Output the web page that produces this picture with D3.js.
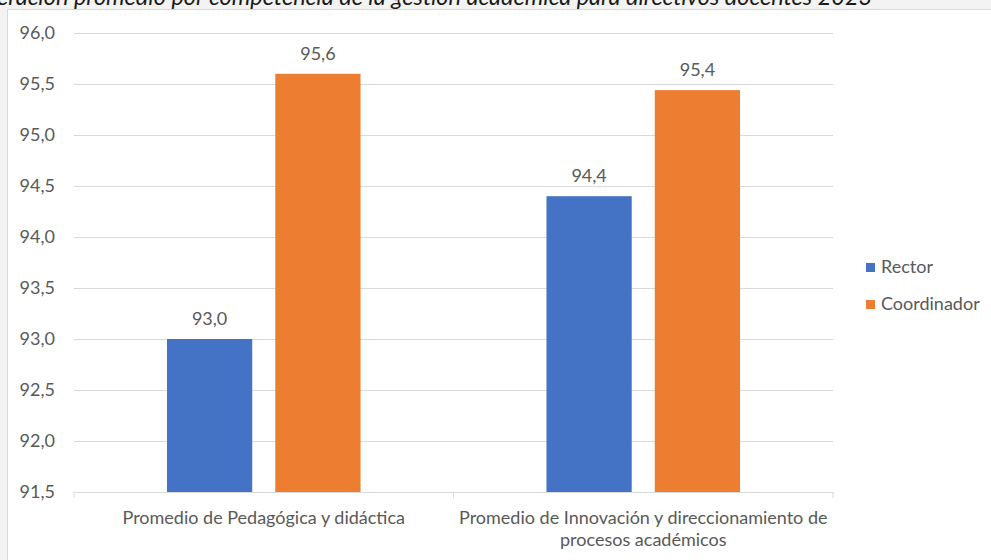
<!DOCTYPE html>
<html>
<head>
<meta charset="utf-8">
<script src="https://cdn.jsdelivr.net/npm/d3@7"></script>
<style>
  body { margin: 0; background: #f3f3f3; }
  svg { display: block; }
  text { font-family: Lato, "Open Sans", sans-serif; fill: #595959; }
</style>
</head>
<body>
<svg id="chart" width="991" height="560"></svg>
<script>
var categories = [["Promedio de Pedagógica y didáctica"],
                  ["Promedio de Innovación y direccionamiento de", "procesos académicos"]];
var series = ["Rector", "Coordinador"];
var rector = [93.0, 94.4];
var coordinador = [95.6, 95.44];
var yTicks = [91.5, 92.0, 92.5, 93.0, 93.5, 94.0, 94.5, 95.0, 95.5, 96.0];
var colors = ["#4472c4", "#ed7d31"];

var svg = d3.select("#chart"),
    margin = {top: 33, right: 158, bottom: 68, left: 74},
    width = +svg.attr("width") - margin.left - margin.right,
    height = +svg.attr("height") - margin.top - margin.bottom;

var fmt = function(v) { return d3.format(".1f")(v).replace(".", ","); };

// title, cut off at the top of the page
svg.append("text")
    .attr("x", -3).attr("y", 5)
    .style("font-style", "italic")
    .style("font-size", "23.5px")
    .style("fill", "#1a1a1a")
    .text("eración promedio por competencia de la gestión académica para directivos docentes 2023");

svg.append("rect")
    .attr("x", 7.5).attr("y", 9.5)
    .attr("width", 1000).attr("height", 600)
    .attr("fill", "#fff").attr("stroke", "#d9d9d9");

var data = categories.map(function(c, i) {
  return {cat: i, values: [rector[i], coordinador[i]]};
});

var x0 = d3.scaleBand().domain(d3.range(categories.length)).range([0, width]);
var x1 = d3.scaleBand().domain(series)
    .range([x0.bandwidth() * 0.245, x0.bandwidth() * 0.755])
    .paddingInner(0.213);
var y = d3.scaleLinear().domain([91.5, 96.0]).range([height, 0]);

var g = svg.append("g")
    .attr("transform", "translate(" + margin.left + "," + margin.top + ")");

// gridlines
g.append("g")
    .call(d3.axisLeft(y).tickValues(yTicks).tickSize(-width).tickFormat(""))
    .call(function(s) {
      s.select(".domain").remove();
      s.selectAll("line").attr("stroke", "#d9d9d9");
    });

// y labels
g.append("g")
    .call(d3.axisLeft(y).tickValues(yTicks).tickSize(0).tickPadding(19).tickFormat(fmt))
    .call(function(s) {
      s.select(".domain").remove();
      s.selectAll("text").style("font-size", "18px").style("fill", "#595959")
        .style("font-family", "Lato, sans-serif");
    });

// bars
var groups = g.selectAll(".group")
    .data(data)
  .enter().append("g")
    .attr("class", "group")
    .attr("transform", function(d) { return "translate(" + x0(d.cat) + ",0)"; });

groups.selectAll("rect")
    .data(function(d) { return d.values.map(function(v, j) { return {key: series[j], value: v, j: j}; }); })
  .enter().append("rect")
    .attr("x", function(d) { return x1(d.key); })
    .attr("width", x1.bandwidth())
    .attr("y", function(d) { return y(d.value); })
    .attr("height", function(d) { return height - y(d.value); })
    .attr("fill", function(d) { return colors[d.j]; });

groups.selectAll(".lbl")
    .data(function(d) { return d.values.map(function(v, j) { return {key: series[j], value: v}; }); })
  .enter().append("text")
    .attr("class", "lbl")
    .attr("x", function(d) { return x1(d.key) + x1.bandwidth() / 2; })
    .attr("y", function(d) { return y(d.value) - 14; })
    .attr("text-anchor", "middle")
    .style("font-size", "18px")
    .text(function(d) { return fmt(d.value); });

// x axis
var xAxis = g.append("g")
    .attr("transform", "translate(0," + height + ")")
    .call(d3.axisBottom(x0).tickSize(0).tickFormat(""));
xAxis.select(".domain").attr("stroke", "#d9d9d9");

xAxis.selectAll(".sep")
    .data([0, x0.step(), width])
  .enter().append("line")
    .attr("x1", function(d) { return d; }).attr("x2", function(d) { return d; })
    .attr("y1", 0).attr("y2", 6)
    .attr("stroke", "#d9d9d9");

xAxis.selectAll(".cat")
    .data(categories)
  .enter().append("text")
    .attr("class", "cat")
    .attr("text-anchor", "middle")
    .attr("transform", function(d, i) { return "translate(" + (x0(i) + x0.bandwidth() / 2) + ",32)"; })
    .style("font-size", "18px")
    .selectAll("tspan")
    .data(function(d) { return d; })
  .enter().append("tspan")
    .attr("x", 0)
    .attr("dy", function(d, i) { return i ? 22 : 0; })
    .text(function(d) { return d; });

// legend
var legend = svg.append("g")
    .attr("transform", "translate(866,263)");
var li = legend.selectAll("g")
    .data(series)
  .enter().append("g")
    .attr("transform", function(d, i) { return "translate(0," + (i * 37) + ")"; });
li.append("rect")
    .attr("width", 9).attr("height", 9)
    .attr("fill", function(d, i) { return colors[i]; });
li.append("text")
    .attr("x", 15).attr("y", 10)
    .style("font-size", "18px")
    .text(function(d) { return d; });
</script>
</body>
</html>
